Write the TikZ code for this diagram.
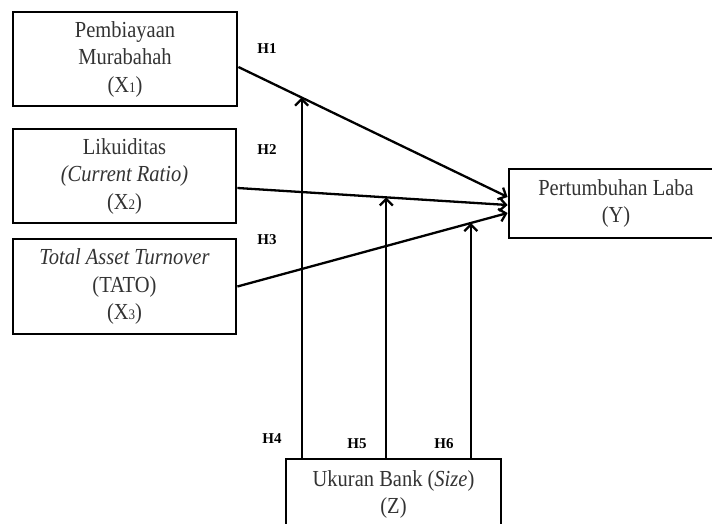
\documentclass[tikz,border=0pt]{standalone}
\usepackage{fontspec}
\setmainfont{Liberation Serif}
\usetikzlibrary{arrows.meta,calc}
\definecolor{txt}{gray}{0.2}
\newcommand{\sub}[1]{{\fontsize{13}{13}\selectfont #1}}
\newcommand{\tall}[1]{\scalebox{1}[1.12]{#1}}
\begin{document}
\begin{tikzpicture}[x=1pt,y=-1pt,
  varbox/.style={draw=black,line width=2.8pt,rectangle,align=center,text=txt,
    font=\fontsize{20.5}{27.5}\selectfont,inner sep=0pt},
  hlabel/.style={font=\fontsize{15}{15}\selectfont\bfseries,text=black,inner sep=0pt},
  link/.style={line width=2.3pt,-{Straight Barb[length=6.5pt,width=13pt,line width=2.3pt]}}]
\useasboundingbox (0,0) rectangle (712,524);
\clip (0,0) rectangle (712,524);
\node[varbox,minimum width=224pt,minimum height=94pt] (X1) at (125,59)
  {\tall{Pembiayaan}\\\tall{Murabahah}\\\tall{(X\sub{1})}};
\node[varbox,minimum width=223pt,minimum height=94pt] (X2) at (124.5,176)
  {\tall{Likuiditas}\\\tall{\textit{(Current Ratio)}}\\\tall{(X\sub{2})}};
\node[varbox,minimum width=223pt,minimum height=95pt] (X3) at (124.5,286.5)
  {\tall{\textit{Total Asset Turnover}}\\\tall{(TATO)}\\\tall{(X\sub{3})}};
\node[varbox,minimum width=214pt,minimum height=69pt] (Y) at (616,203.5)
  {\tall{Pertumbuhan Laba}\\\tall{(Y)}};
\node[varbox,minimum width=215pt,minimum height=71pt,text depth=0pt] (Z) at (393.5,494.5)
  {\raisebox{5pt}{\shortstack{\tall{Ukuran Bank (\textit{Size})}\\[3pt]\tall{(Z)}}}};
\coordinate (s1) at ([yshift=-8pt]X1.east);
\coordinate (s2) at ([yshift=-12pt]X2.east);
\coordinate (s3) at (X3.east);
\coordinate (e1) at ([yshift=6.5pt]Y.west);
\coordinate (e2) at ([yshift=-1.5pt]Y.west);
\coordinate (e3) at ([yshift=-9.5pt]Y.west);
\draw[link] (s1) -- (e1) coordinate[pos=0.235] (m1);
\draw[link] (s2) -- (e2) coordinate[pos=0.551] (m2);
\draw[link] (s3) -- (e3) coordinate[pos=0.864] (m3);
\draw[link] (Z.north -| m1) -- (m1);
\draw[link] (Z.north -| m2) -- (m2);
\draw[link] (Z.north -| m3) -- (m3);
\node[hlabel] (h1) at (267,49) {H1};
\node[hlabel] (h2) at (267,150) {H2};
\node[hlabel] (h3) at (267,240) {H3};
\node[hlabel] (h4) at (272,439) {H4};
\node[hlabel] (h5) at (357,444) {H5};
\node[hlabel] (h6) at (444,444) {H6};
\end{tikzpicture}
\end{document}
